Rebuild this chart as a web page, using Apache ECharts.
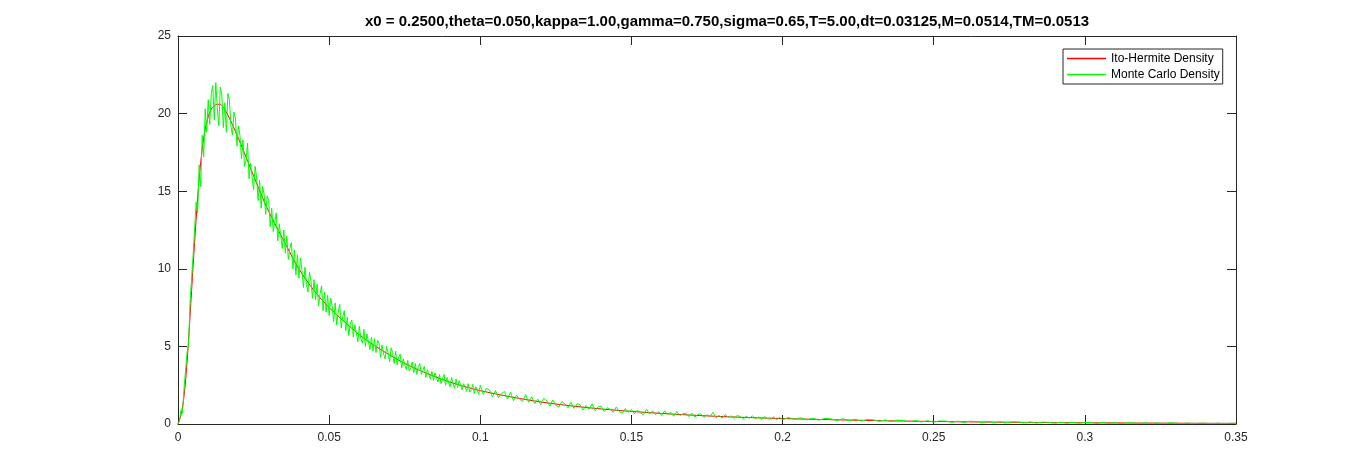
<!DOCTYPE html>
<html>
<head>
<meta charset="utf-8">
<script src="https://cdn.jsdelivr.net/npm/echarts@6/dist/echarts.min.js"></script>
<style>
html,body{margin:0;padding:0;background:#fff;}
#chart{width:1366px;height:476px;}
</style>
</head>
<body>
<div id="chart"></div>
<script>
const titleText = 'x0 = 0.2500,theta=0.050,kappa=1.00,gamma=0.750,sigma=0.65,T=5.00,dt=0.03125,M=0.0514,TM=0.0513';
const seriesNames = ['Ito-Hermite Density', 'Monte Carlo Density'];
const xTicks = { min: 0, max: 0.35, interval: 0.05 };
const yTicks = { min: 0, max: 25, interval: 5 };

// Ito-Hermite density (smooth red curve)
const ihX = [0,0.001,0.002,0.003,0.004,0.005,0.006,0.007,0.008,0.009,0.010,0.011,0.012,0.013,0.014,0.015,0.016,0.017,0.018,0.020,0.0225,0.025,0.0275,0.030,0.035,0.040,0.045,0.050,0.055,0.060,0.065,0.070,0.075,0.080,0.085,0.090,0.095,0.100,0.110,0.120,0.130,0.140,0.150,0.160,0.170,0.180,0.190,0.200,0.220,0.240,0.260,0.280,0.300,0.320,0.340,0.350];
const ihY = [0,0.6,1.8,4.0,7.0,10.2,13.2,15.8,17.7,19.0,19.8,20.3,20.5,20.6,20.6,20.4,20.1,19.7,19.3,18.4,17.2,16.0,14.8,13.7,11.8,10.0,8.6,7.5,6.6,5.75,5.05,4.45,3.9,3.45,3.05,2.7,2.4,2.15,1.75,1.42,1.17,0.97,0.81,0.68,0.57,0.48,0.41,0.35,0.26,0.19,0.14,0.105,0.08,0.06,0.045,0.04];

// Monte Carlo density (noisy green histogram), three bin-width segments
const mcStartA = 0, mcStepA = 0.0005;
const mcA = [
0,0.2,0.9,0.7,2.3,2.4,4.6,5.1,7.9,7.8,
10.9,10.8,14.3,13.6,16.7,15.3,18.6,17.2,20.3,18.8,
20.9,19.3,21.3,21.8,19.6,22.0,20.4,19.2,21.7,21.2,
19.1,20.7,18.8,21.3,20.9,19.2,18.6,20.1,19.7,17.9,
19.2,18.6,17.1,18.3,16.6,17.0,18.1,15.8,16.8,16.9,
15.1,16.6,15.9,14.4,15.7,13.9,15.3,14.8,13.5,14.7,
14.4,12.7,13.9,12.4,12.3,13.6,11.8,12.9,12.8,11.3,
12.5,11.0,12.1,10.6,11.3,11.7,10.0,11.2,9.6,10.9,
9.4,10.7,9.9,8.8,10.1,9.0,8.5,9.8,9.2,8.1,
9.3,8.0,9.0,7.6,8.4,8.9,7.3,8.5,7.2,8.3,
7.0,8.1,7.6,6.6,7.8,6.4,7.2,7.7,6.2,6.9,
7.3,6.0,6.9,5.7,6.5,6.7,5.6,6.4,6.3,5.3,
6.3,5.5,5.2,6.1,5.0,5.8,5.9,4.8,5.6,4.7,
5.5,4.6,5.4,5.2,4.3,5.1,4.5,4.2,5.0,4.6,
4.0,4.9,4.6,3.9,4.7,3.8,4.3,4.5,3.6,4.2,
4.3,3.5,4.1,3.4,3.6,4.0,3.3,3.9,3.2,3.7,
3.9,3.2,3.1,3.7,3.0,3.5,3.6,2.9,3.4,2.8,
3.3,3.4,2.7,3.2,2.6,2.9,3.2,2.5,3.0,2.9,
2.4,3.0,2.6,2.3,2.9,2.35,2.8,2.7,2.2,2.6,
2.7,2.1,2.6,2.05,2.2,2.55,1.95,2.4,2.3,1.9];
const mcStartB = 0.100, mcStepB = 0.001;
const mcB = [
2.5,1.9,2.3,2.2,1.75,2.15,1.7,1.95,2.1,1.6,
2.05,1.5,1.85,1.6,1.45,1.9,1.4,1.75,1.3,1.6,
1.25,1.65,1.5,1.15,1.55,1.2,1.1,1.45,1.3,1.05,
1.4,1.0,1.3,1.25,0.9,1.2,0.95,1.3,0.85,1.1,
1.15,0.8,1.05,0.95,0.75,1.1,0.8,0.7,1.0,0.75,
0.95,0.65,0.9,0.7,0.6,0.95,0.65,0.85,0.6,0.8,
0.55,0.85,0.6,0.75,0.5,0.8,0.55,0.65,0.7,0.48,
0.7,0.45,0.62,0.66,0.42,0.6,0.48,0.75,0.4,0.55,
0.38,0.6,0.44,0.52,0.36,0.55,0.48,0.33,0.5,0.37,
0.52,0.34,0.45,0.3,0.48,0.36,0.31,0.46,0.28,0.42];
const mcStartC = 0.200, mcStepC = 0.002;
const mcC = [
0.28,0.42,0.3,0.4,0.27,0.38,0.25,0.36,0.33,0.22,
0.34,0.21,0.31,0.19,0.29,0.27,0.17,0.26,0.15,0.25,
0.22,0.14,0.23,0.13,0.21,0.12,0.2,0.19,0.11,0.18,
0.1,0.18,0.16,0.09,0.16,0.08,0.15,0.08,0.14,0.13,
0.07,0.13,0.06,0.12,0.11,0.05,0.11,0.05,0.1,0.05,
0.1,0.09,0.04,0.09,0.04,0.08,0.03,0.08,0.07,0.03,
0.08,0.03,0.07,0.02,0.07,0.06,0.02,0.06,0.02,0.05,
0.05,0.02,0.05,0.02,0.05,0.04];

function seg(start, step, vals){ return vals.map((v,i)=>[+(start+i*step).toFixed(5), v]); }
const mcData = seg(mcStartA, mcStepA, mcA).concat(seg(mcStartB, mcStepB, mcB), seg(mcStartC, mcStepC, mcC));
const ihData = ihX.map((x,i)=>[x, ihY[i]]);

const axisColor = '#262626';
const font = '"Liberation Sans", Arial, Helvetica, sans-serif';
function xAx(pos, labels){
  return { type:'value', position:pos, min:xTicks.min, max:xTicks.max, interval:xTicks.interval,
    axisLine:{show:true, onZero:false, lineStyle:{color:axisColor, width:1}},
    axisTick:{show:true, inside:true, length:9, lineStyle:{color:axisColor}},
    axisLabel:{show:labels, color:axisColor, fontSize:12, fontFamily:font, margin:8},
    splitLine:{show:false} };
}
function yAx(pos, labels){
  return { type:'value', position:pos, min:yTicks.min, max:yTicks.max, interval:yTicks.interval,
    axisLine:{show:true, onZero:false, lineStyle:{color:axisColor, width:1}},
    axisTick:{show:true, inside:true, length:9, lineStyle:{color:axisColor}},
    axisLabel:{show:labels, color:axisColor, fontSize:12, fontFamily:font, margin:7},
    splitLine:{show:false} };
}

const chart = echarts.init(document.getElementById('chart'), null, {renderer:'canvas'});
chart.setOption({
  backgroundColor:'#fff',
  animation:false,
  title:{ text:titleText, left:722, top:9, textAlign:'center',
    textStyle:{ fontSize:15, fontWeight:'bold', color:'#000', fontFamily:font } },
  grid:{ left:178, right:130, top:36, bottom:52, containLabel:false },
  legend:{ orient:'vertical', left:1063, top:49, padding:[2,3,2,4], itemGap:1,
    icon:'rect', itemWidth:39, itemHeight:1.5, borderColor:axisColor, borderWidth:1, backgroundColor:'#fff',
    textStyle:{ fontSize:12, color:'#000', fontFamily:font, lineHeight:15 },
    data: seriesNames },
  xAxis:[ xAx('bottom', true), xAx('top', false) ],
  yAxis:[ yAx('left', true), yAx('right', false) ],
  series:[
    { name:seriesNames[0], type:'line', data:ihData, symbol:'none', smooth:0.3,
      lineStyle:{ color:'#ff0000', width:1 }, itemStyle:{color:'#ff0000'}, z:2 },
    { name:seriesNames[1], type:'line', data:mcData, symbol:'none',
      lineStyle:{ color:'#00ff00', width:1 }, itemStyle:{color:'#00ff00'}, z:3 }
  ]
});
</script>
</body>
</html>
